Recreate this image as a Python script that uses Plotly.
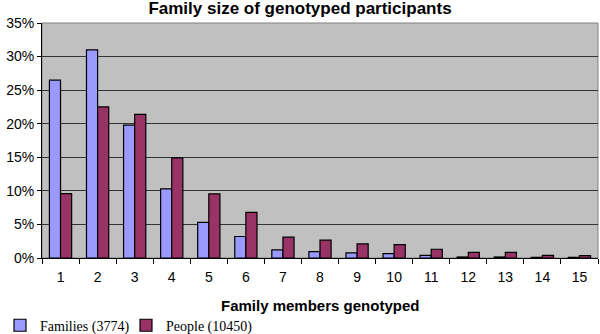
import plotly.graph_objects as go

# Datos
miembros = [str(i) for i in range(1, 16)]
familias = [26.5, 31.0, 19.8, 10.3, 5.3, 3.2, 1.2, 0.95, 0.75, 0.65, 0.4, 0.15, 0.15, 0.1, 0.1]
personas = [9.6, 22.5, 21.4, 14.9, 9.55, 6.8, 3.1, 2.65, 2.1, 2.0, 1.3, 0.85, 0.85, 0.4, 0.35]
y_ticks = [0, 5, 10, 15, 20, 25, 30, 35]

fig = go.Figure()
fig.add_trace(go.Bar(
    x=miembros, y=familias, name="Families (3774)", legend="legend",
    marker=dict(color="#9999FF", line=dict(color="black", width=1.2))
))
fig.add_trace(go.Bar(
    x=miembros, y=personas, name="People (10450)", legend="legend2",
    marker=dict(color="#993366", line=dict(color="black", width=1.2))
))

leyenda = dict(orientation="h", xref="container", yref="container",
               xanchor="left", y=0.025, yanchor="middle",
               font=dict(family="Times New Roman, Liberation Serif", size=14, color="black"),
               itemwidth=30, bgcolor="rgba(0,0,0,0)")

fig.update_layout(
    width=600, height=334,
    title=dict(text="<b>Family size of genotyped participants</b>",
               x=0.5, xanchor="center", yref="container", y=0.993, yanchor="top",
               font=dict(family="Arial, Liberation Sans", size=17, color="black")),
    paper_bgcolor="white",
    plot_bgcolor="#C0C0C0",
    barmode="group",
    bargap=0.4,
    bargroupgap=0,
    margin=dict(l=42, r=2, t=23, b=76, autoexpand=False),
    font=dict(family="Arial, Liberation Sans", size=14, color="black"),
    showlegend=True,
    legend=dict(leyenda, x=0.0),
    legend2=dict(leyenda, x=0.21),
)

# título del eje x como anotación para fijar su posición
fig.add_annotation(text="<b>Family members genotyped</b>", showarrow=False,
                   xref="paper", x=0.5, xanchor="center",
                   yref="paper", y=-0.2, yanchor="middle",
                   font=dict(family="Arial, Liberation Sans", size=15, color="black"))

fig.update_xaxes(
    type="category",
    automargin=False,
    ticks="outside", tickson="boundaries", ticklen=5, tickcolor="black",
    ticklabelstandoff=6,
    showline=True, linecolor="black", linewidth=1, mirror=False,
    showgrid=False,
)
fig.update_yaxes(
    range=[0, 35],
    automargin=False,
    tickvals=y_ticks,
    ticktext=[f"{v}%" for v in y_ticks],
    ticks="outside", ticklen=4, tickcolor="black",
    showline=True, linecolor="black", linewidth=1,
    showgrid=True, gridcolor="#333333", gridwidth=1,
    zeroline=False,
)

# borde gris del área de trazado
fig.add_shape(type="rect", xref="paper", yref="paper", x0=0, y0=0, x1=1, y1=1,
              line=dict(color="#808080", width=1), layer="below")

fig.write_html("out.html", config={"displayModeBar": False},
               post_script="document.body.style.margin='0';")
